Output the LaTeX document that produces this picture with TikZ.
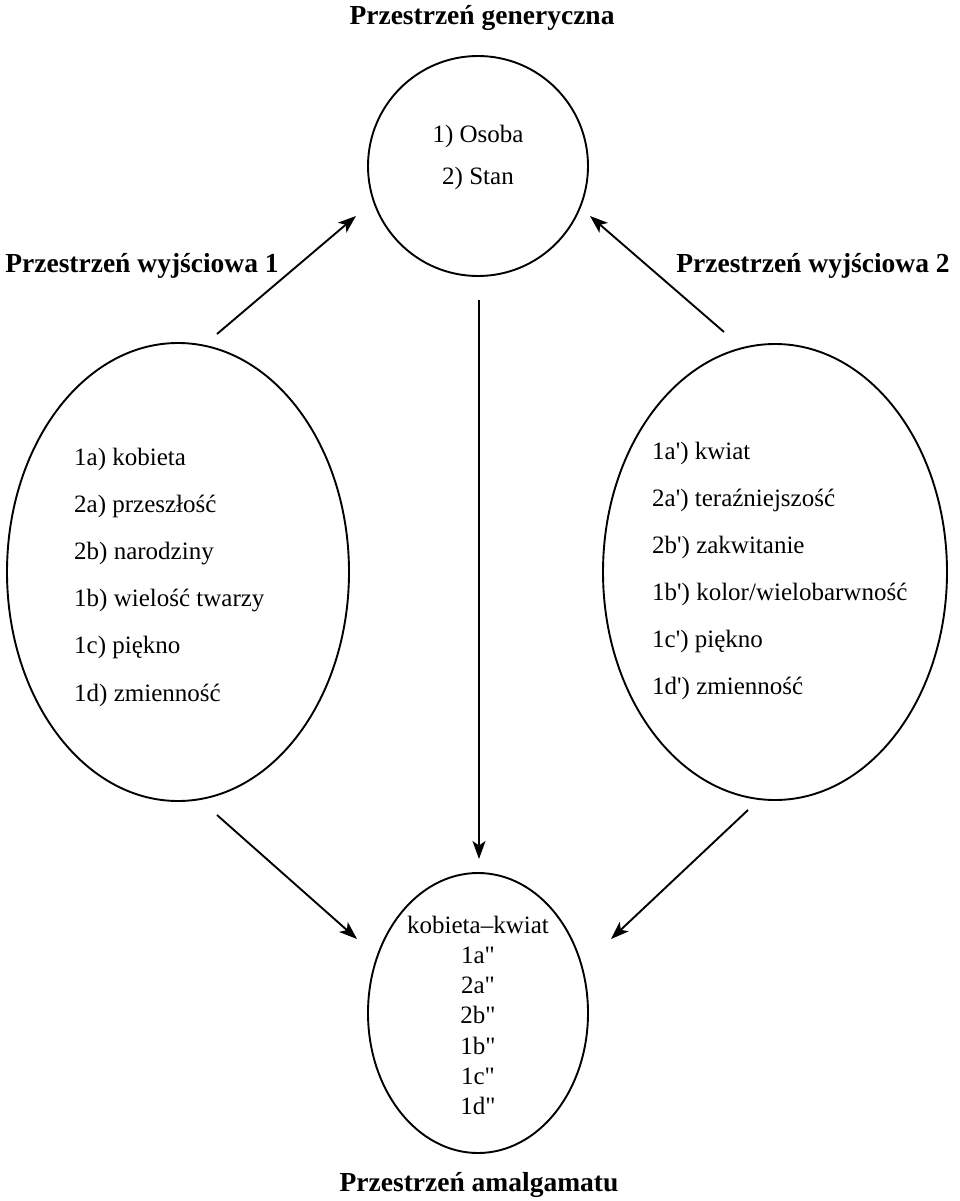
\documentclass[tikz,border=0pt]{standalone}
\usepackage{fontspec}
\setmainfont{Liberation Serif}
\usetikzlibrary{shapes.geometric,arrows.meta}

\tikzset{
  space/.style={draw, line width=1.9pt, inner sep=0pt},
  oval/.style={space, ellipse},
  heading/.style={font=\bfseries\fontsize{27.5}{31}\selectfont, anchor=base, inner sep=0pt},
  item/.style={font=\fontsize{25}{29}\selectfont, inner sep=0pt},
  arr/.style={line width=1.9pt, -{Stealth[length=18pt,width=13pt,inset=4.5pt]}}
}
\newcommand{\pr}{\textquotesingle}
\newcommand{\dpr}{\textquotedbl}

\begin{document}
\begin{tikzpicture}[x=1pt,y=-1pt]
\useasboundingbox (0,0) rectangle (959,1201);

% the four spaces
\node[space, circle, minimum size=220pt] (gen) at (478,166) {};
\node[oval, minimum width=342pt, minimum height=458pt] (in1) at (178,572) {};
\node[oval, minimum width=344pt, minimum height=456pt] (in2) at (775,572) {};
\node[oval, minimum width=220pt, minimum height=280pt] (blend) at (478,1013) {};

% headings
\node[heading] (tgen) at (482,25) {Przestrzeń generyczna};
\node[heading] (tin1) at (142,272) {Przestrzeń wyjściowa 1};
\node[heading] (tin2) at (813,272) {Przestrzeń wyjściowa 2};
\node[heading] (tblend) at (479,1191) {Przestrzeń amalgamatu};

% generic space contents
\node[item, anchor=base] (g1) at (478,143) {1) Osoba};
\node[item, anchor=base] (g2) at (478,185) {2) Stan};

% input space 1
\foreach \t [count=\i] in {1a) kobieta, 2a) przeszłość, 2b) narodziny,
    1b) wielość twarzy, 1c) piękno, 1d) zmienność}
  \node[item, anchor=base west] (a\i) at (74,{465+47.2*(\i-1)}) {\t};

% input space 2
\foreach \t [count=\i] in {1a\pr) kwiat, 2a\pr) teraźniejszość, 2b\pr) zakwitanie,
    1b\pr) kolor/wielobarwność, 1c\pr) piękno, 1d\pr) zmienność}
  \node[item, anchor=base west] (b\i) at (652,{459+47*(\i-1)}) {\t};

% blended space
\foreach \t [count=\i] in {kobieta–kwiat, 1a\dpr, 2a\dpr, 2b\dpr, 1b\dpr, 1c\dpr, 1d\dpr}
  \node[item, anchor=base] (c\i) at (478,{933+30.3*(\i-1)}) {\t};

% arrow end points
\coordinate (u1s) at (217,334);
\coordinate (u1e) at (356,216);
\coordinate (u2s) at (724,332);
\coordinate (u2e) at (590,216);
\coordinate (vs) at (479,300);
\coordinate (ve) at (479,859);
\coordinate (d1s) at (217,815);
\coordinate (d1e) at (357,939);
\coordinate (d2s) at (748,810);
\coordinate (d2e) at (611,939);

\draw[arr] (u1s) -- (u1e);
\draw[arr] (u2s) -- (u2e);
\draw[arr] (vs) -- (ve);
\draw[arr] (d1s) -- (d1e);
\draw[arr] (d2s) -- (d2e);
\end{tikzpicture}
\end{document}
